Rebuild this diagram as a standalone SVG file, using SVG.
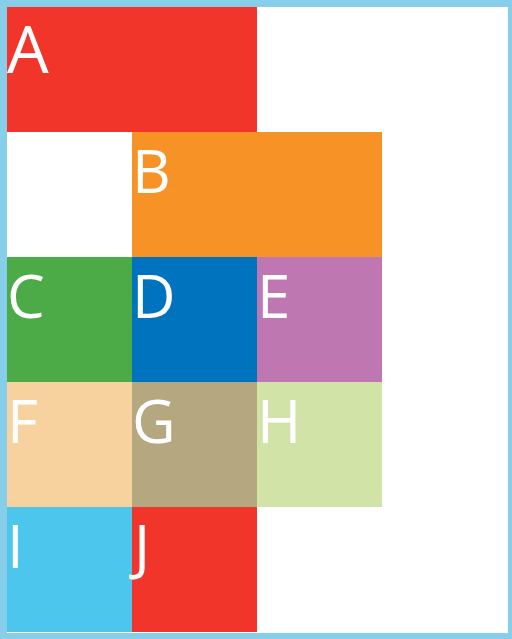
<svg xmlns="http://www.w3.org/2000/svg" width="512" height="639" viewBox="0 0 512 639">
<style>
.lbl{font-family:"Open Sans","Noto Sans","DejaVu Sans",sans-serif;font-size:60px;fill:#ffffff}
</style>
<rect width="512" height="639" fill="#ffffff"/>
<path d="M0 0H512V639H0Z M7 7V633H508V7Z" fill="#87CEEB" fill-rule="evenodd"/>
<g id="A"><rect x="7" y="7" width="250" height="125" fill="#F2352B"/><text class="lbl" x="7" y="73" style="font-size:66px">A</text></g>
<g id="B"><rect x="132" y="132" width="250" height="125" fill="#F79226"/><text class="lbl" x="132" y="193">B</text></g>
<g id="C"><rect x="7" y="257" width="125" height="125" fill="#4CAA47"/><text class="lbl" x="7" y="318">C</text></g>
<g id="D"><rect x="132" y="257" width="125" height="125" fill="#0073BE"/><text class="lbl" x="132" y="318">D</text></g>
<g id="E"><rect x="257" y="257" width="125" height="125" fill="#BE77B0"/><text class="lbl" x="257" y="318">E</text></g>
<g id="F"><rect x="7" y="382" width="125" height="125" fill="#F7D29F"/><text class="lbl" x="7" y="443">F</text></g>
<g id="G"><rect x="132" y="382" width="125" height="125" fill="#B5A780"/><text class="lbl" x="132" y="443">G</text></g>
<g id="H"><rect x="257" y="382" width="125" height="125" fill="#D2E3A8"/><text class="lbl" x="257" y="443">H</text></g>
<g id="I"><rect x="7" y="507" width="125" height="125" fill="#4CC6EC"/><text class="lbl" x="7" y="568">I</text></g>
<g id="J"><rect x="132" y="507" width="125" height="125" fill="#F2352B"/><text class="lbl" x="134" y="568">J</text></g>
<g id="connectors"></g>
</svg>
